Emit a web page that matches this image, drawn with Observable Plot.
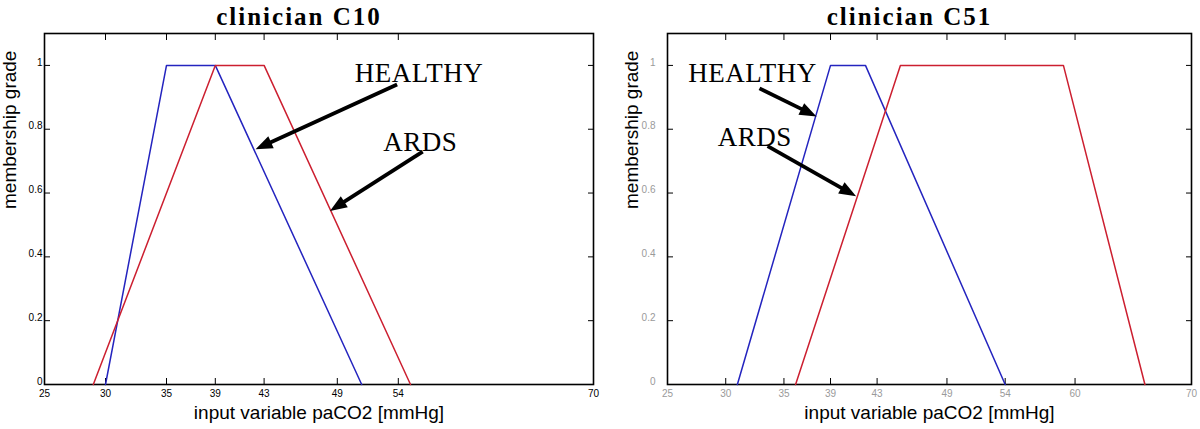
<!DOCTYPE html>
<html>
<head>
<meta charset="utf-8">
<script src="https://cdn.jsdelivr.net/npm/d3@7"></script>
<script src="https://cdn.jsdelivr.net/npm/@observablehq/plot@0.6"></script>
<style>
  body { margin: 0; background: #fff; }
  #wrap { display: flex; width: 1200px; height: 429px; overflow: hidden; }
</style>
</head>
<body>
<div id="wrap"></div>
<script>
// ---- data ----
const titles = ["clinician C10", "clinician C51"];
const xLabel = "input variable paCO2 [mmHg]";
const yLabel = "membership grade";
const xDomain = [25, 70];
const yTicks = [0, 0.2, 0.4, 0.6, 0.8, 1];
const xTicksC10 = [25, 30, 35, 39, 43, 49, 54, 70];
const xTicksC51 = [25, 30, 35, 39, 43, 49, 54, 60, 70];

// membership functions (paCO2, grade)
const c10HealthyX = [30, 35, 39, 51];
const c10HealthyY = [0, 1, 1, 0];
const c10ArdsX = [29, 39, 43, 55];
const c10ArdsY = [0, 1, 1, 0];
const c51HealthyX = [31, 39, 42, 54];
const c51HealthyY = [0, 1, 1, 0];
const c51ArdsX = [36, 45, 59, 66];
const c51ArdsY = [0, 1, 1, 0];

// annotations (data coordinates)
const noteText = ["HEALTHY", "ARDS"];
const c10NoteX = [55.7, 55.8];
const c10NoteY = [0.975, 0.76];
const c10ArrowFrom = [[53.9, 0.94], [56.0, 0.73]];
const c10ArrowTo = [[42.3, 0.737], [48.4, 0.544]];
const c51NoteX = [32.3, 32.5];
const c51NoteY = [0.975, 0.775];
const c51ArrowFrom = [[32.9, 0.928], [33.6, 0.747]];
const c51ArrowTo = [[37.8, 0.84], [41.2, 0.59]];

// ---- helpers ----
const zip = (xs, ys) => xs.map((x, i) => ({x, y: ys[i]}));
const BLUE = "#2424bf";
const RED = "#cc1f30";
const headSymbol = {
  draw(ctx) { ctx.moveTo(0, -10); ctx.lineTo(6.5, 7); ctx.lineTo(-6.5, 7); ctx.closePath(); }
};

function panel(cfg) {
  const width = 600, height = 429, mt = 33, mb = 45;
  const {marginLeft, marginRight} = cfg;
  const yDomain = [0, 1.1];
  // local copies of the plot's own linear scales for arrow head geometry
  const sx = d3.scaleLinear(xDomain, [marginLeft, width - marginRight]);
  const sy = d3.scaleLinear(yDomain, [height - mb, mt]);
  const arrows = cfg.from.map((f, i) => {
    const t = cfg.to[i];
    const px1 = sx(f[0]), py1 = sy(f[1]), px2 = sx(t[0]), py2 = sy(t[1]);
    const dx = px2 - px1, dy = py2 - py1, len = Math.hypot(dx, dy);
    const ux = dx / len, uy = dy / len;
    return {
      x1: f[0], y1: f[1],
      lx: sx.invert(px2 - ux * 12), ly: sy.invert(py2 - uy * 12),
      hx: sx.invert(px2 - ux * 10), hy: sy.invert(py2 - uy * 10),
      rot: Math.atan2(dx, -dy) * 180 / Math.PI
    };
  });
  const notes = noteText.map((t, i) => ({t, x: cfg.noteX[i], y: cfg.noteY[i]}));
  const svg = Plot.plot({
    width, height, marginLeft, marginRight, marginTop: mt, marginBottom: mb,
    style: {background: "white", overflow: "visible"},
    x: {domain: xDomain, label: null},
    y: {domain: yDomain, label: null},
    marks: [
      Plot.axisX(cfg.xTicks, {anchor: "bottom", tickSize: -6, tickPadding: 11, tickFormat: d => String(d),
        stroke: "black", fill: cfg.tickColor, fontSize: 10, fontFamily: "Liberation Sans", label: null}),
      Plot.axisX(cfg.xTicks, {anchor: "top", tickSize: -6, tickFormat: () => "", stroke: "black", label: null}),
      Plot.axisY(yTicks, {anchor: "left", tickSize: -6, tickFormat: () => "", stroke: "black", label: null}),
      Plot.axisY(yTicks, {anchor: "left", tickSize: 0, tickPadding: cfg.yPad, dy: -3, tickFormat: d => String(d),
        fill: cfg.tickColor, fontSize: 10, fontFamily: "Liberation Sans", label: null}),
      Plot.axisY(yTicks, {anchor: "right", tickSize: -6, tickFormat: () => "", stroke: "black", label: null}),
      Plot.frame({stroke: "black", strokeWidth: 1.6}),
      Plot.line(cfg.healthy, {x: "x", y: "y", stroke: BLUE, strokeWidth: 1.5}),
      Plot.line(cfg.ards, {x: "x", y: "y", stroke: RED, strokeWidth: 1.5}),
      Plot.link(arrows, {x1: "x1", y1: "y1", x2: "lx", y2: "ly", stroke: "black", strokeWidth: 3.8}),
      Plot.dot(arrows, {x: "hx", y: "hy", symbol: headSymbol, rotate: "rot", fill: "black", stroke: "none", r: 5}),
      Plot.text(notes, {x: "x", y: "y", text: "t", fontFamily: "Liberation Serif", fontSize: 27, fill: "black", textAnchor: "middle"}),
      Plot.text([cfg.title], {frameAnchor: "top", dx: -20, dy: -9, lineAnchor: "bottom", text: d => d,
        fontFamily: "Liberation Serif", fontWeight: "bold", fontSize: 25, fill: "black"}),
      Plot.text([xLabel], {frameAnchor: "bottom", dy: 34, lineAnchor: "bottom", text: d => d,
        fontFamily: "Liberation Sans", fontSize: 19, fill: "black"}),
      Plot.text([yLabel], {frameAnchor: "left", rotate: -90, dx: cfg.yLabelDx, lineAnchor: "bottom", text: d => d,
        fontFamily: "Liberation Sans", fontSize: 19, fill: "black"})
    ]
  });
  d3.select(svg).selectAll("text")
    .filter(function() { return this.textContent === cfg.title; })
    .style("letter-spacing", "2px");
  d3.select(svg).selectAll("text")
    .filter(function() { return noteText.includes(this.textContent); })
    .style("letter-spacing", "0.5px");
  return svg;
}

const wrap = document.getElementById("wrap");
wrap.append(panel({
  title: titles[0], xTicks: xTicksC10, marginLeft: 44, marginRight: 7, tickColor: "black", yPad: 2, yLabelDx: -29,
  healthy: zip(c10HealthyX, c10HealthyY), ards: zip(c10ArdsX, c10ArdsY),
  noteX: c10NoteX, noteY: c10NoteY, from: c10ArrowFrom, to: c10ArrowTo
}));
wrap.append(panel({
  title: titles[1], xTicks: xTicksC51, marginLeft: 67, marginRight: 9, tickColor: "#9a9a9a", yPad: 12, yLabelDx: -30,
  healthy: zip(c51HealthyX, c51HealthyY), ards: zip(c51ArdsX, c51ArdsY),
  noteX: c51NoteX, noteY: c51NoteY, from: c51ArrowFrom, to: c51ArrowTo
}));
</script>
</body>
</html>
